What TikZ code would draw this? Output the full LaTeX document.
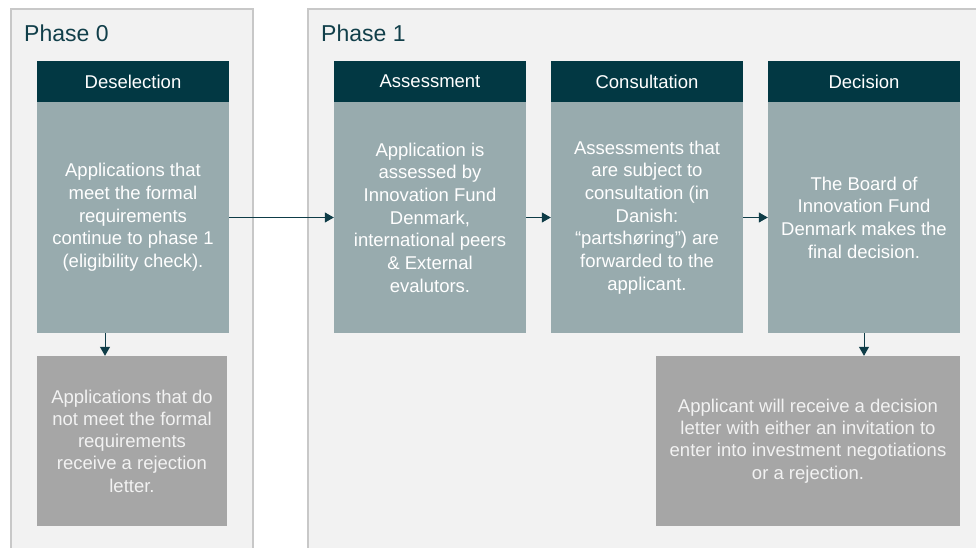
\documentclass[tikz,border=0pt]{standalone}
\usepackage{fontspec}
\setmainfont{Liberation Sans}
\usetikzlibrary{arrows.meta}
\definecolor{panelfill}{HTML}{F2F2F2}
\definecolor{panelline}{HTML}{C8C8C8}
\definecolor{headfill}{HTML}{023843}
\definecolor{bodyfill}{HTML}{98ABAE}
\definecolor{resfill}{HTML}{A6A6A6}
\definecolor{titlecol}{HTML}{113F4A}
\definecolor{arrowcol}{HTML}{0E3C47}
\tikzset{
  panel/.style={fill=panelfill, draw=panelline, line width=1.2pt},
  phasetitle/.style={anchor=west, text=titlecol, font=\fontsize{23}{27}\selectfont, inner sep=0pt},
  headbox/.style={fill=headfill, text=white, minimum width=192pt, minimum height=41pt, inner sep=0pt, font=\fontsize{18.5}{22}\selectfont},
  bodybox/.style={fill=bodyfill, text=white, minimum width=192pt, minimum height=231pt, inner sep=0pt, align=center, font=\fontsize{18.5}{22.7}\selectfont},
  resbox/.style={fill=resfill, text=panelfill, inner sep=0pt, align=center, font=\fontsize{18.5}{22.3}\selectfont},
  flow/.style={draw=arrowcol, line width=1pt, -{Triangle[length=9pt,width=10pt]}}
}
\begin{document}
\begin{tikzpicture}[x=1pt,y=-1pt]
\useasboundingbox (0,0) rectangle (976,547);
\clip (0,0) rectangle (976,547);
\fill[white] (0,0) rectangle (976,547);
\draw[panel] (11,9) rectangle (253,570);
\draw[panel] (308,9) rectangle (1000,570);
\node[phasetitle] (p0) at (24,33) {Phase 0};
\node[phasetitle] (p1) at (321,33) {Phase 1};

\node[headbox] (deselH) at (133,81.5) {Deselection};
\node[bodybox] (deselB) at (133,217.5) {Applications that\\meet the formal\\requirements\\continue to phase 1\\(eligibility check).};

\node[headbox] (assH) at (430,81.5) {Assessment};
\node[bodybox] (assB) at (430,217.5) {Application is\\assessed by\\Innovation Fund\\Denmark,\\international peers\\\& External\\evalutors.};

\node[headbox] (conH) at (647,81.5) {Consultation};
\node[bodybox] (conB) at (647,217.5) {Assessments that\\are subject to\\consultation (in\\Danish:\\“partshøring”) are\\forwarded to the\\applicant.};

\node[headbox] (decH) at (864,81.5) {Decision};
\node[bodybox] (decB) at (864,217.5) {The Board of\\Innovation Fund\\Denmark makes the\\final decision.};

\node[resbox, minimum width=190pt, minimum height=170pt] (rej) at (132,441) {Applications that do\\not meet the formal\\requirements\\receive a rejection\\letter.};
\node[resbox, minimum width=304pt, minimum height=170pt] (decR) at (808,441) {Applicant will receive a decision\\letter with either an invitation to\\enter into investment negotiations\\or a rejection.};

\draw[flow] (deselB.east) -- (assB.west);
\draw[flow] (assB.east) -- (conB.west);
\draw[flow] (conB.east) -- (decB.west);
\coordinate (d0) at ([xshift=-28pt]deselB.south);
\draw[flow] (d0) -- (d0 |- rej.north);
\draw[flow] (decB.south) -- (decB.south |- decR.north);
\end{tikzpicture}
\end{document}
